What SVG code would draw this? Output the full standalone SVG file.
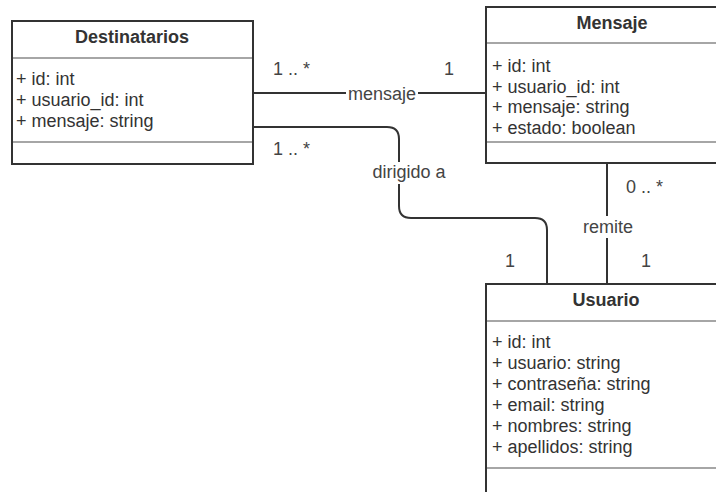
<svg xmlns="http://www.w3.org/2000/svg" width="716" height="492" viewBox="0 0 716 492">
  <style>
    .box { fill: #ffffff; stroke: #333333; stroke-width: 2; }
    .sep { stroke: #a6a6a6; stroke-width: 2; fill: none; }
    .title { font-family: "Liberation Sans", Arial, sans-serif; font-size: 18px; font-weight: bold; fill: #333333; text-anchor: middle; }
    .attr { font-family: "Liberation Sans", Arial, sans-serif; font-size: 18px; fill: #333333; }
    .edge { stroke: #333333; stroke-width: 2; fill: none; }
    .lbl { font-family: "Liberation Sans", Arial, sans-serif; font-size: 18px; fill: #444444; }
    .mid { text-anchor: middle; }
    .bg { fill: #ffffff; }
  </style>
  <rect width="716" height="492" fill="#ffffff"/>

  <!-- associations -->
  <g id="connectors">
    <path class="edge" d="M253,93 H486"/>
    <path class="edge" d="M253,127 H387 Q399,127 399,139 V206 Q399,218 411,218 H535 Q547,218 547,230 V284"/>
    <path class="edge" d="M607,163 V284"/>

    <rect class="bg" x="346" y="84" width="72" height="20"/>
    <text class="lbl mid" x="382" y="100">mensaje</text>
    <text class="lbl" x="273" y="75">1 .. *</text>
    <text class="lbl" x="444" y="75">1</text>

    <rect class="bg" x="370" y="162" width="78" height="22"/>
    <text class="lbl mid" x="409" y="178">dirigido a</text>
    <text class="lbl" x="273" y="155">1 .. *</text>
    <text class="lbl" x="505" y="267">1</text>

    <rect class="bg" x="582" y="216" width="52" height="22"/>
    <text class="lbl mid" x="608" y="233">remite</text>
    <text class="lbl" x="626" y="193">0 .. *</text>
    <text class="lbl" x="641" y="267">1</text>
  </g>

  <!-- class Destinatarios -->
  <g id="destinatarios">
    <rect class="box" x="12" y="21" width="241" height="143"/>
    <line class="sep" x1="13" y1="58" x2="252" y2="58"/>
    <line class="sep" x1="13" y1="142" x2="252" y2="142"/>
    <text class="title" x="132" y="43">Destinatarios</text>
    <text class="attr" x="16" y="85">+ id: int</text>
    <text class="attr" x="16" y="106">+ usuario_id: int</text>
    <text class="attr" x="16" y="127">+ mensaje: string</text>
  </g>

  <!-- class Mensaje -->
  <g id="mensaje">
    <rect class="box" x="486" y="7" width="252" height="156"/>
    <line class="sep" x1="487" y1="43" x2="737" y2="43"/>
    <line class="sep" x1="487" y1="142" x2="737" y2="142"/>
    <text class="title" x="612" y="29">Mensaje</text>
    <text class="attr" x="492" y="72">+ id: int</text>
    <text class="attr" x="492" y="93">+ usuario_id: int</text>
    <text class="attr" x="492" y="113">+ mensaje: string</text>
    <text class="attr" x="492" y="134">+ estado: boolean</text>
  </g>

  <!-- class Usuario -->
  <g id="usuario">
    <rect class="box" x="486" y="284" width="240" height="230"/>
    <line class="sep" x1="487" y1="321" x2="725" y2="321"/>
    <line class="sep" x1="487" y1="468" x2="725" y2="468"/>
    <text class="title" x="606" y="306">Usuario</text>
    <text class="attr" x="492" y="348">+ id: int</text>
    <text class="attr" x="492" y="369">+ usuario: string</text>
    <text class="attr" x="492" y="390">+ contraseña: string</text>
    <text class="attr" x="492" y="411">+ email: string</text>
    <text class="attr" x="492" y="432">+ nombres: string</text>
    <text class="attr" x="492" y="453">+ apellidos: string</text>
  </g>
</svg>
